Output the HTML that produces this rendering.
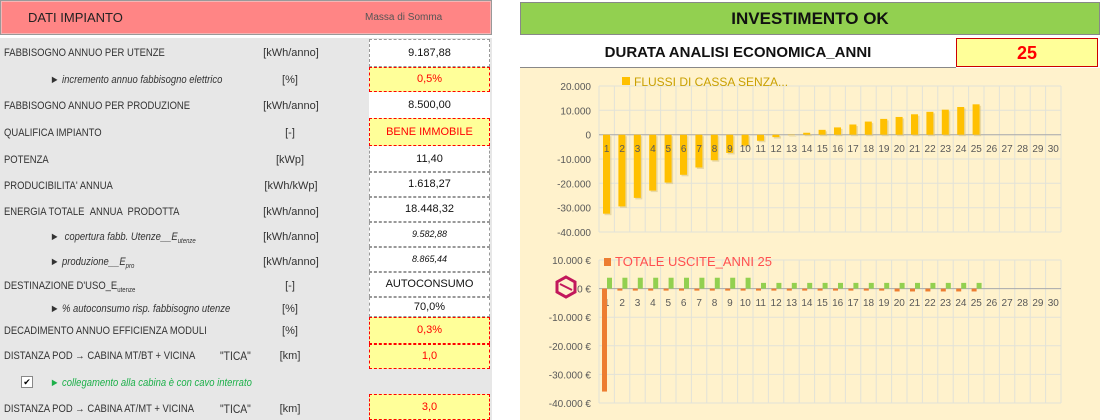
<!DOCTYPE html>
<html><head><meta charset="utf-8"><style>
body{margin:0;width:1100px;height:420px;overflow:hidden;background:#fff;font-family:"Liberation Sans",sans-serif;position:relative}
.a{position:absolute}
.hdr{left:0;top:0;width:490px;height:33px;background:#ff8585;border:1px solid #999;box-shadow:inset 0 0 0 1px #f5b5b5}
.lp{left:0;top:38px;width:492px;height:382px;background:#e7e7e7}
.r{position:absolute;left:4px;font-size:11px;color:#333;white-space:nowrap;transform:scaleX(0.86);transform-origin:0 0}
.u{position:absolute;font-size:11px;color:#333;width:80px;text-align:center}
.v{position:absolute;left:369px;width:121px;font-size:11px;color:#111;text-align:center;background:#fff;border:1px dashed #999;box-sizing:border-box}
.y{background:#ffff99;border:1px dashed #f00;color:#f00}
.i{font-style:italic}
</style></head><body>
<div class="a hdr"></div>
<div class="a" style="left:28px;top:10px;font-size:13px;color:#222">DATI IMPIANTO</div>
<div class="a" style="left:365px;top:12px;font-size:10px;color:#555">Massa di Somma</div>
<div class="a lp"></div>

<div class="r" style="top:47px">FABBISOGNO ANNUO PER UTENZE</div><div class="u" style="left:251px;top:47px">[kWh/anno]</div>
<div class="v" style="top:39px;height:28px;line-height:26px">9.187,88</div>
<div class="r i" style="left:50px;top:74px">► incremento annuo fabbisogno elettrico</div><div class="u" style="left:250px;top:74px">[%]</div>
<div class="v y" style="top:67px;height:25px;line-height:23px">0,5%</div>
<div class="r" style="top:100px">FABBISOGNO ANNUO PER PRODUZIONE</div><div class="u" style="left:251px;top:100px">[kWh/anno]</div>
<div class="v" style="top:92px;height:26px;line-height:24px;border-color:#fff">8.500,00</div>
<div class="r" style="top:127px">QUALIFICA IMPIANTO</div><div class="u" style="left:250px;top:127px">[-]</div>
<div class="v y" style="top:118px;height:28px;line-height:26px">BENE IMMOBILE</div>
<div class="r" style="top:154px">POTENZA</div><div class="u" style="left:250px;top:154px">[kWp]</div>
<div class="v" style="top:146px;height:26px;line-height:24px;border-color:#fff #999 #999 #999">11,40</div>
<div class="r" style="top:180px">PRODUCIBILITA' ANNUA</div><div class="u" style="left:251px;top:180px">[kWh/kWp]</div>
<div class="v" style="top:172px;height:25px;line-height:23px">1.618,27</div>
<div class="r" style="top:206px">ENERGIA TOTALE &nbsp;ANNUA &nbsp;PRODOTTA</div><div class="u" style="left:251px;top:206px">[kWh/anno]</div>
<div class="v" style="top:197px;height:25px;line-height:23px">18.448,32</div>
<div class="r i" style="left:50px;top:231px">► &nbsp;copertura fabb. Utenze__E<sub style="font-size:7px">utenze</sub></div><div class="u" style="left:251px;top:231px">[kWh/anno]</div>
<div class="v i" style="top:222px;height:25px;line-height:23px;font-size:9px">9.582,88</div>
<div class="r i" style="left:50px;top:256px">► produzione__E<sub style="font-size:7px">pro</sub></div><div class="u" style="left:251px;top:256px">[kWh/anno]</div>
<div class="v i" style="top:247px;height:25px;line-height:23px;font-size:9px">8.865,44</div>
<div class="r" style="top:280px">DESTINAZIONE D'USO_E<sub style="font-size:7px">utenze</sub></div><div class="u" style="left:250px;top:280px">[-]</div>
<div class="v" style="top:272px;height:25px;line-height:23px">AUTOCONSUMO</div>
<div class="r i" style="left:50px;top:303px">► % autoconsumo risp. fabbisogno utenze</div><div class="u" style="left:250px;top:303px">[%]</div>
<div class="v" style="top:297px;height:20px;line-height:18px">70,0%</div>
<div class="r" style="top:325px">DECADIMENTO ANNUO EFFICIENZA MODULI</div><div class="u" style="left:250px;top:325px">[%]</div>
<div class="v y" style="top:317px;height:27px;line-height:25px">0,3%</div>
<div class="r" style="top:350px">DISTANZA POD → CABINA MT/BT + VICINA</div><div class="r" style="left:220px;top:349px;font-size:12px">"TICA"</div><div class="u" style="left:250px;top:350px">[km]</div>
<div class="v y" style="top:344px;height:25px;line-height:23px">1,0</div>
<div class="a" style="left:21px;top:376px;width:10px;height:10px;background:#fff;border:1px solid #888;font-size:9px;line-height:10px;text-align:center">✔</div>
<div class="r i" style="left:50px;top:377px;color:#1db04a">► collegamento alla cabina è con cavo interrato</div>
<div class="r" style="top:403px">DISTANZA POD → CABINA AT/MT + VICINA</div><div class="r" style="left:220px;top:402px;font-size:12px">"TICA"</div><div class="u" style="left:250px;top:403px">[km]</div>
<div class="v y" style="top:394px;height:26px;line-height:24px">3,0</div>

<div class="a" style="left:520px;top:2px;width:578px;height:31px;background:#92d050;border:1px solid #888;text-align:center;font-weight:bold;font-size:17px;line-height:31px;color:#111">INVESTIMENTO OK</div>
<div class="a" style="left:520px;top:38px;width:436px;height:29px;background:#fff;border-bottom:1px solid #888;text-align:center;font-weight:bold;font-size:15px;line-height:30px;color:#111">DURATA ANALISI ECONOMICA_ANNI</div>
<div class="a" style="left:956px;top:38px;width:140px;height:27px;background:#ffff99;border:1px solid #c00;text-align:center;font-weight:bold;font-size:18px;line-height:28px;color:#f00">25</div>
<div class="a" style="left:520px;top:68px;width:580px;height:352px;background:#fff2cc"></div>
<svg class="a" style="left:0;top:0" width="1100" height="420" id="s"></svg>
<script>
var s='',X0=599,W=462/30;
function grid(top,bot,vals,lab,zero){
 for(var i=0;i<=30;i++){var x=X0+i*W;s+='<line x1="'+x+'" y1="'+top+'" x2="'+x+'" y2="'+bot+'" stroke="#e2e2d8"/>';}
 vals.forEach(function(v){s+='<line x1="'+X0+'" y1="'+v[0]+'" x2="1061" y2="'+v[0]+'" stroke="#e2e2d8"/><text x="591" y="'+(v[0]+4)+'" text-anchor="end" font-size="10" fill="#595959">'+v[1]+'</text>';});
 s+='<line x1="'+X0+'" y1="'+zero+'" x2="1061" y2="'+zero+'" stroke="#aaa"/>';
 for(var i=1;i<=30;i++){s+='<text x="'+(X0+(i-0.5)*W)+'" y="'+lab+'" text-anchor="middle" font-size="10" fill="#595959">'+i+'</text>';}
}
var z1=134.7,k1=24.3/10000;
grid(86,232,[[86,'20.000'],[110.3,'10.000'],[134.7,'0'],[159,'-10.000'],[183.3,'-20.000'],[207.7,'-30.000'],[232,'-40.000']],152,z1);
var d=[-32500,-29500,-26000,-23000,-19700,-16500,-13500,-10500,-7500,-4500,-2500,-1000,-200,800,2000,3000,4200,5400,6500,7300,8400,9400,10300,11400,12500];
var bars='';
d.forEach(function(v,i){var x=X0+i*W+4,h=Math.abs(v)*k1,y=v<0?z1:z1-h;bars+='<rect x="'+(x+1.5)+'" y="'+(y+1.5)+'" width="7" height="'+h+'" fill="#d9c78a" opacity=".6"/><rect x="'+x+'" y="'+y+'" width="7" height="'+h+'" fill="#ffc000"/>';});
s=s.replace(/(<text[^>]*y="152")/,bars+'$1');
s+='<rect x="622" y="77" width="8" height="8" fill="#ffc000"/><text x="634" y="86" font-size="12" fill="#c9a000">FLUSSI DI CASSA SENZA...</text>';
var z2=288.6,k2=28.6/10000;
grid(260,403,[[260,'10.000 €'],[288.6,'0 €'],[317.2,'-10.000 €'],[345.8,'-20.000 €'],[374.4,'-30.000 €'],[403,'-40.000 €']],306,z2);
for(var i=0;i<25;i++){var x=X0+i*W;var g=i<10?3800:2000,o=i==0?36000:(i<19?500:1000);
 s+='<rect x="'+(x+8)+'" y="'+(z2-g*k2)+'" width="5" height="'+(g*k2)+'" fill="#92d050"/>';
 s+='<rect x="'+(x+3)+'" y="'+z2+'" width="5" height="'+Math.max(o*k2,2)+'" fill="#ed7d31"/>';}
s+='<rect x="604" y="258" width="7" height="8" fill="#ed7d31"/><text x="615" y="266" font-size="13" fill="#ff5050">TOTALE USCITE_ANNI 25</text>';
s+='<path d="M566 277 L575 282 L575 292 L566 297 L557 292 L557 282Z" fill="none" stroke="#c2185b" stroke-width="3"/><path d="M560 284 L572 290" stroke="#c2185b" stroke-width="2"/>';
document.getElementById('s').innerHTML=s;
</script>
</body></html>
